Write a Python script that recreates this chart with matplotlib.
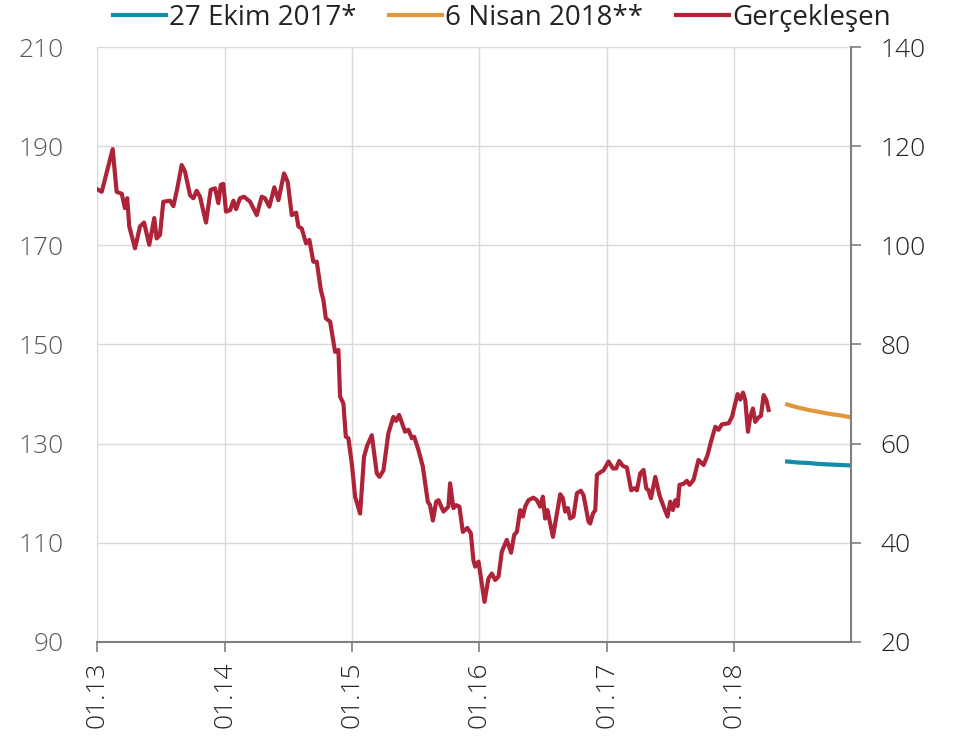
import numpy as np
import pandas as pd
import matplotlib
matplotlib.use('Agg')
import matplotlib.pyplot as plt
import matplotlib.dates as mdates

plt.rcParams['font.family'] = ['Open Sans', 'DejaVu Sans']

# gerçekleşen seri (ondalık yıl, değer)
yil = [2013.000, 2013.035, 2013.121, 2013.152, 2013.192, 2013.217, 2013.235, 2013.251,
       2013.296, 2013.335, 2013.367, 2013.408, 2013.447, 2013.466, 2013.492, 2013.518,
       2013.571, 2013.597, 2013.628, 2013.662, 2013.688, 2013.728, 2013.754, 2013.780,
       2013.806, 2013.853, 2013.890, 2013.924, 2013.950, 2013.969, 2013.989, 2014.010,
       2014.042, 2014.068, 2014.089, 2014.120, 2014.151, 2014.199, 2014.224, 2014.251,
       2014.290, 2014.316, 2014.350, 2014.389, 2014.421, 2014.465, 2014.494, 2014.526,
       2014.560, 2014.578, 2014.604, 2014.638, 2014.664, 2014.695, 2014.722, 2014.754,
       2014.774, 2014.793, 2014.827, 2014.866, 2014.892, 2014.905, 2014.931, 2014.950,
       2014.970, 2014.997, 2015.023, 2015.062, 2015.093, 2015.119, 2015.154, 2015.193,
       2015.214, 2015.245, 2015.284, 2015.323, 2015.345, 2015.368, 2015.415, 2015.441,
       2015.468, 2015.486, 2015.520, 2015.554, 2015.593, 2015.611, 2015.633, 2015.659,
       2015.677, 2015.716, 2015.755, 2015.768, 2015.794, 2015.816, 2015.841, 2015.868,
       2015.904, 2015.931, 2015.951, 2015.965, 2015.991, 2016.017, 2016.038, 2016.069,
       2016.096, 2016.122, 2016.148, 2016.174, 2016.213, 2016.247, 2016.271, 2016.292,
       2016.318, 2016.339, 2016.357, 2016.383, 2016.422, 2016.449, 2016.475, 2016.496,
       2016.514, 2016.532, 2016.575, 2016.606, 2016.632, 2016.653, 2016.671, 2016.692,
       2016.710, 2016.736, 2016.763, 2016.794, 2016.815, 2016.854, 2016.867, 2016.889,
       2016.907, 2016.920, 2016.951, 2016.972, 2017.011, 2017.046, 2017.071, 2017.095,
       2017.124, 2017.155, 2017.189, 2017.215, 2017.234, 2017.260, 2017.286, 2017.307,
       2017.325, 2017.344, 2017.378, 2017.411, 2017.443, 2017.474, 2017.495, 2017.516,
       2017.535, 2017.553, 2017.568, 2017.600, 2017.626, 2017.647, 2017.678, 2017.717,
       2017.757, 2017.788, 2017.815, 2017.849, 2017.874, 2017.901, 2017.953, 2017.980,
       2018.005, 2018.024, 2018.045, 2018.066, 2018.084, 2018.105, 2018.123, 2018.144,
       2018.162, 2018.188, 2018.207, 2018.228, 2018.249, 2018.267]
gerceklesen = [181.3, 180.8, 189.4, 180.8, 180.4, 177.5, 179.5, 173.8,
               169.4, 173.8, 174.6, 170.1, 175.5, 171.4, 172.1, 178.8,
               179.0, 177.9, 181.5, 186.2, 184.9, 180.1, 179.5, 181.0,
               179.8, 174.6, 181.2, 181.5, 178.5, 182.2, 182.4, 176.8,
               177.1, 179.0, 177.3, 179.5, 179.8, 178.8, 177.5, 176.1,
               179.8, 179.5, 177.8, 181.7, 179.1, 184.5, 182.8, 176.1,
               176.6, 173.8, 173.4, 170.4, 171.1, 166.7, 166.7, 161.0,
               159.0, 155.3, 154.6, 148.5, 148.9, 139.5, 138.1, 131.4,
               131.1, 126.0, 119.3, 115.9, 127.4, 129.7, 131.7, 124.0,
               123.3, 124.6, 132.1, 135.4, 134.6, 135.8, 132.4, 132.8,
               131.1, 131.4, 128.7, 125.4, 118.3, 117.6, 114.5, 118.3,
               118.6, 116.3, 117.3, 122.0, 117.0, 117.6, 117.3, 112.2,
               113.0, 111.9, 106.5, 105.2, 106.2, 101.8, 98.1, 102.8,
               103.8, 102.5, 103.2, 108.2, 110.6, 108.0, 111.6, 112.2,
               116.6, 115.3, 117.3, 118.6, 119.1, 118.6, 117.3, 119.3,
               114.9, 116.6, 111.2, 115.9, 119.8, 119.0, 116.3, 117.0,
               114.9, 115.3, 120.0, 120.5, 119.6, 114.3, 113.9, 115.9,
               116.6, 123.7, 124.3, 124.6, 126.4, 125.0, 125.0, 126.5,
               125.5, 125.2, 120.6, 121.0, 120.6, 124.0, 124.7, 121.0,
               120.6, 119.0, 123.3, 119.6, 117.3, 115.3, 118.3, 116.6,
               118.6, 117.4, 121.7, 121.9, 122.5, 121.7, 122.7, 126.7,
               125.7, 127.7, 130.4, 133.4, 132.8, 133.9, 134.1, 135.4,
               138.1, 140.0, 138.9, 140.3, 138.8, 132.4, 135.4, 137.1,
               134.4, 135.3, 135.6, 139.8, 138.8, 136.8]

# tahmin dönemleri
tahmin_tarih = ['2018-06-01', '2018-07-01', '2018-08-01', '2018-09-01',
                '2018-10-01', '2018-11-01', '2018-12-01']
ekim_2017 = [126.4, 126.2, 126.1, 125.9, 125.8, 125.7, 125.6]
nisan_2018 = [137.9, 137.3, 136.8, 136.4, 136.0, 135.7, 135.3]

sol_ticks = [90, 110, 130, 150, 170, 190, 210]
sag_ticks = [20, 40, 60, 80, 100, 120, 140]
yil_ticks = ['2013-01-01', '2014-01-01', '2015-01-01', '2016-01-01',
             '2017-01-01', '2018-01-01']

kirmizi = '#AE2338'
mavi = '#118DAA'
turuncu = '#E1963A'

# ondalık yıl -> tarih
yil = np.array(yil)
tarih = pd.to_datetime('2013-01-01') + pd.to_timedelta((yil - 2013) * 365.25, unit='D')
tahmin_tarih = pd.to_datetime(tahmin_tarih)

fig = plt.figure(figsize=(9.65, 7.38), dpi=100)
ax = fig.add_axes([0.1008, 0.1301, 0.7811, 0.8062])

l1, = ax.plot(tahmin_tarih, ekim_2017, color=mavi, lw=3, label='27 Ekim 2017*')
l2, = ax.plot(tahmin_tarih, nisan_2018, color=turuncu, lw=3, label='6 Nisan 2018**')
l3, = ax.plot(tarih, gerceklesen, color=kirmizi, lw=3, label='Gerçekleşen')

ax.set_ylim(90, 210)
ax.set_yticks(sol_ticks)
ax.set_xlim(pd.Timestamp('2013-01-01'), pd.Timestamp('2018-12-01'))
ax.set_xticks(pd.to_datetime(yil_ticks))
ax.xaxis.set_major_formatter(mdates.DateFormatter('%m.%y'))
ax.grid(True, color='#d9d9d9', lw=1)
ax.set_axisbelow(True)

for s in ['top', 'left', 'right']:
    ax.spines[s].set_visible(False)
ax.spines['bottom'].set_color('#7f7f7f')
ax.spines['bottom'].set_linewidth(1.5)

ax.tick_params(axis='y', length=0, pad=24, labelsize=19, labelcolor='#595959')
ax.tick_params(axis='x', length=7, width=1.2, color='#7f7f7f', pad=7,
               labelsize=19, labelcolor='#222222', labelrotation=90)
for t in ax.get_xticklabels() + ax.get_yticklabels():
    t.set_fontweight('light')

# sağ eksen
ax2 = ax.twinx()
ax2.set_ylim(20, 140)
ax2.set_yticks(sag_ticks)
for s in ['top', 'left', 'bottom']:
    ax2.spines[s].set_visible(False)
ax2.spines['right'].set_color('#7f7f7f')
ax2.spines['right'].set_linewidth(1.5)
ax2.tick_params(axis='y', length=7, width=1.2, color='#7f7f7f', pad=14,
                labelsize=19, labelcolor='#222222')
for t in ax2.get_yticklabels():
    t.set_fontweight('light')

fig.legend(handles=[l1, l2, l3], loc='center', bbox_to_anchor=(0.52, 0.976),
           ncol=3, frameon=False, fontsize=20, handlelength=1.9,
           handletextpad=0.1, columnspacing=1.2, labelcolor='#222222')

plt.savefig('out.png', dpi=100)
